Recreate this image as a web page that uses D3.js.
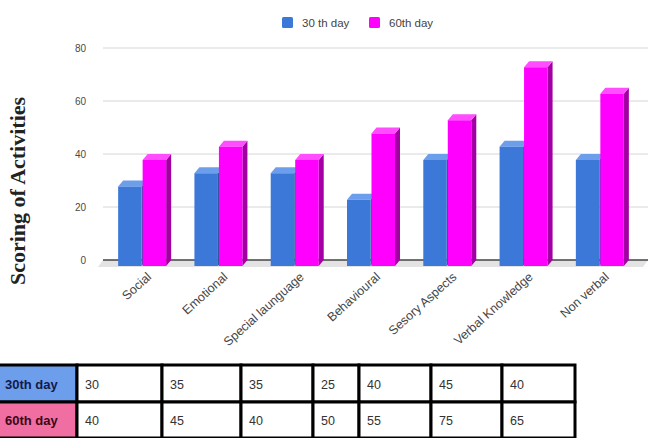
<!DOCTYPE html>
<html>
<head>
<meta charset="utf-8">
<script src="https://cdn.jsdelivr.net/npm/d3@7"></script>
<style>
  body { margin: 0; background: #fff; }
  svg { display: block; }
</style>
</head>
<body>
<svg id="chart" width="648" height="438"></svg>
<script>
// data
const categories = ["Social", "Emotional", "Special launguage", "Behavioural", "Sesory Aspects", "Verbal Knowledge", "Non verbal"];
const day30 = [30, 35, 35, 25, 40, 45, 40];
const day60 = [40, 45, 40, 50, 55, 75, 65];
const seriesNames = ["30 th day", "60th day"];
const rowNames = ["30th day", "60th day"];
const yTicks = [0, 20, 40, 60, 80];

const width = 648, height = 438;
const svg = d3.select("#chart");

const colors = [
  { front: "#3c78d8", top: "#6d9eeb", side: "#2a56a0" },
  { front: "#ff00ff", top: "#ff4dff", side: "#a300a3" }
];

const y = d3.scaleLinear().domain([0, 80]).range([260, 48]);
const x0 = d3.scaleBand().domain(categories).range([104, 638]);
const x1 = d3.scaleBand().domain(seriesNames).range([0, 48]).paddingInner(0.04);

const dx = 5, dy = 6;  // fake 3d depth
const plotLeft = 103, plotRight = 648;

// floor
svg.append("polygon")
  .attr("points", [[plotLeft, y(0)], [plotRight, y(0)], [plotRight - dx, y(0) + dy + 1], [plotLeft - dx, y(0) + dy + 1]].join(" "))
  .attr("fill", "#e3e3e3");

// gridlines
svg.append("g").selectAll("line")
  .data(yTicks.filter(d => d > 0))
  .join("line")
  .attr("x1", plotLeft).attr("x2", plotRight)
  .attr("y1", d => y(d)).attr("y2", d => y(d))
  .attr("stroke", "#d6d6d6").attr("stroke-width", 1);

svg.append("line")
  .attr("x1", plotLeft).attr("x2", plotRight)
  .attr("y1", y(0)).attr("y2", y(0))
  .attr("stroke", "#444").attr("stroke-width", 1.5);

// y tick labels
svg.append("g").selectAll("text")
  .data(yTicks)
  .join("text")
  .attr("x", 86).attr("y", d => y(d) + 3.5)
  .attr("text-anchor", "end")
  .attr("font-family", "Liberation Sans, Arial, sans-serif")
  .attr("font-size", 10)
  .attr("fill", "#4a4a4a")
  .text(d => d);

// y title
svg.append("text")
  .attr("transform", "translate(25,191) rotate(-90)")
  .attr("text-anchor", "middle")
  .attr("font-family", "Liberation Serif, Times New Roman, serif")
  .attr("font-weight", "bold")
  .attr("font-size", 22)
  .attr("fill", "#222")
  .text("Scoring of Activities");

// bars
const bars = [];
categories.forEach((c, i) => {
  [day30[i], day60[i]].forEach((v, s) => {
    bars.push({ cat: c, s: s, v: v });
  });
});

const barW = x1.bandwidth();
svg.append("g").selectAll("g")
  .data(bars)
  .join("g")
  .each(function(d) {
    const bx = x0(d.cat) + (x0.bandwidth() - 48) / 2 + x1(seriesNames[d.s]);
    const yF = y(d.v) + dy;
    const yB = y(0) + dy;
    const c = colors[d.s];
    const el = d3.select(this);
    el.append("polygon")
      .attr("points", [[bx + barW, yF], [bx + barW + dx, yF - dy], [bx + barW + dx, y(0)], [bx + barW, yB]].join(" "))
      .attr("fill", c.side);
    el.append("polygon")
      .attr("points", [[bx, yF], [bx + dx, yF - dy], [bx + barW + dx, yF - dy], [bx + barW, yF]].join(" "))
      .attr("fill", c.top);
    el.append("rect")
      .attr("x", bx).attr("y", yF)
      .attr("width", barW).attr("height", yB - yF)
      .attr("fill", c.front);
  });

// x labels
svg.append("g").selectAll("text")
  .data(categories)
  .join("text")
  .attr("transform", d => `translate(${x0(d) + x0.bandwidth() / 2 + 10},${278}) rotate(-42)`)
  .attr("text-anchor", "end")
  .attr("font-family", "Liberation Sans, Arial, sans-serif")
  .attr("font-size", 12.5)
  .attr("fill", "#444")
  .text(d => d);

// legend
const legend = svg.append("g").attr("font-family", "Liberation Sans, Arial, sans-serif").attr("font-size", 11.5).attr("fill", "#444");
const legendX = [282, 369];
seriesNames.forEach((n, i) => {
  legend.append("rect")
    .attr("x", legendX[i]).attr("y", 17).attr("width", 11).attr("height", 11).attr("rx", 1.5)
    .attr("fill", colors[i].front);
  legend.append("text")
    .attr("x", legendX[i] + 20).attr("y", 26.5)
    .text(n);
});

// table
const colEdges = [-2, 77, 162, 241, 313, 359, 431, 502, 575];
const rowEdges = [365, 402, 438];
const headFill = ["#6d9eeb", "#f06ea2"];
const headText = ["#141a4a", "#3a0816"];
const rows = [day30, day60];
const tbl = svg.append("g");
rows.forEach((vals, r) => {
  const cells = [rowNames[r]].concat(vals);
  tbl.append("g").selectAll("rect")
    .data(cells)
    .join("rect")
    .attr("x", (d, i) => colEdges[i])
    .attr("y", rowEdges[r])
    .attr("width", (d, i) => colEdges[i + 1] - colEdges[i])
    .attr("height", rowEdges[r + 1] - rowEdges[r])
    .attr("fill", (d, i) => i === 0 ? headFill[r] : "#fff")
    .attr("stroke", "#000").attr("stroke-width", 3);
  tbl.append("g").selectAll("text")
    .data(cells)
    .join("text")
    .attr("x", (d, i) => i === 0 ? 5 : colEdges[i] + 8)
    .attr("y", (rowEdges[r] + rowEdges[r + 1]) / 2 + 5)
    .attr("font-family", "Liberation Sans, Arial, sans-serif")
    .attr("font-size", (d, i) => i === 0 ? 13 : 12.5)
    .attr("font-weight", (d, i) => i === 0 ? "bold" : "normal")
    .attr("fill", (d, i) => i === 0 ? headText[r] : "#333")
    .text(d => d);
});
</script>
</body>
</html>
